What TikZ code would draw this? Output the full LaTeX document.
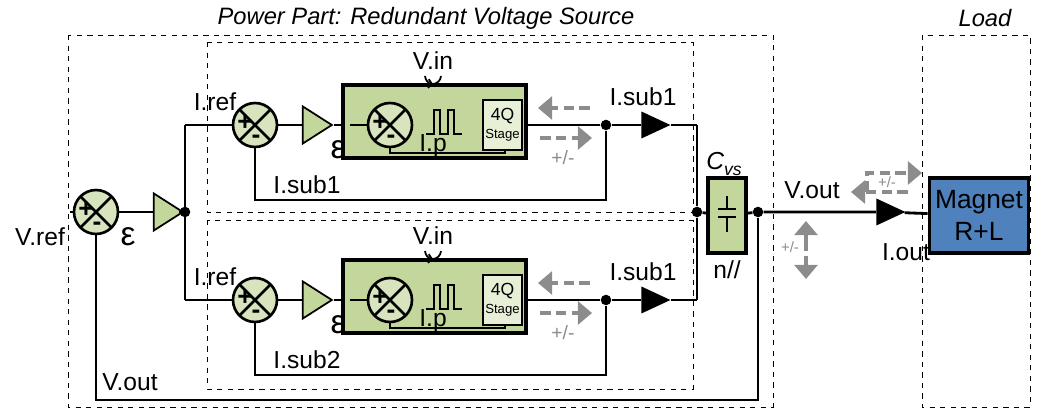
\documentclass[tikz,border=0pt]{standalone}
\usepackage{fontspec}
\setmainfont{Liberation Sans}
\usetikzlibrary{shapes.geometric,arrows.meta}
\definecolor{lgreen}{HTML}{D7E4BD}
\definecolor{mgreen}{HTML}{C3D69B}
\definecolor{magblue}{HTML}{4F81BD}
\definecolor{arrgrey}{HTML}{8C8C8C}
\tikzset{
  wire/.style={line width=1.6pt},
  frame/.style={dashed,line width=0.5pt},
  summer/.style={circle,draw,line width=1.5pt,fill=lgreen,minimum size=0.88cm,inner sep=0pt,
    path picture={\draw[line width=1.5pt] (path picture bounding box.north west) -- (path picture bounding box.south east)
      (path picture bounding box.north east) -- (path picture bounding box.south west);}},
  gain/.style={isosceles triangle,isosceles triangle stretches,draw,line width=1pt,fill=mgreen,
    minimum height=0.58cm,minimum width=0.74cm,inner sep=0pt},
  flow/.style={isosceles triangle,isosceles triangle stretches,fill=black,
    minimum height=0.58cm,minimum width=0.54cm,inner sep=0pt},
  dot/.style={circle,fill=black,inner sep=0pt,minimum size=6pt},
  sgn/.style={font=\bfseries\fontsize{15}{15}\selectfont,inner sep=0pt},
  lbl/.style={font=\fontsize{14}{14}\selectfont,inner sep=0pt},
  eps/.style={font=\fontsize{19}{19}\selectfont,inner sep=0pt},
  grey arrow/.style={dash pattern=on 6pt off 3pt,line width=1.8pt,arrgrey,-{Triangle[length=8pt,width=13pt]}},
}
\begin{document}
\begin{tikzpicture}[x=0.02cm,y=-0.02cm]
\useasboundingbox (0,0) rectangle (1046,418);

% frames
\draw[frame] (68,35) rectangle (773,407);
\draw[frame] (922,35) rectangle (1030,407);
\draw[frame] (207,42) rectangle (693,212);
\draw[frame] (207,220) rectangle (693,389);
\node[lbl,font=\itshape\fontsize{13.5}{13.5}\selectfont] (ptitle) at (426,18) {Power Part: Redundant Voltage Source};
\node[lbl,font=\itshape\fontsize{13.5}{13.5}\selectfont] (ltitle) at (985,18) {Load};

% main loop
\coordinate (vin) at (70,212);
\node[summer] (s0) at (96,212) {};
\node[sgn] at (86,210) {+};
\node[sgn] at (97,226) {-};
\node[gain] (g0) at (164,212) {};
\node[eps] (e0) at (128,237) {ε};
\node[dot] (j0) at (185,212) {};
\node[lbl] (vref) at (40,237) {V.ref};
\draw[wire] (vin) -- (s0) -- (g0) -- (j0);
\draw[wire] (185,125) -- (185,300);

% two branches
\foreach \yo/\nm/\fb in {0/a/I.sub1,175/b/I.sub2}{
  \begin{scope}[yshift=-\yo*0.02cm]
  \node[summer] (s\nm) at (255,125) {};
  \node[sgn] at (245,123) {+};
  \node[sgn] at (256,139) {-};
  \node[lbl] at (215,102) {I.ref};
  \node[gain] (g\nm) at (313,125) {};
  \node[eps] at (338,150) {ε};
  \node[draw,line width=1.8pt,fill=mgreen,minimum width=3.66cm,minimum height=1.46cm,inner sep=0pt] (box\nm) at (434.5,121.5) {};
  \node[summer] (p\nm) at (390,125) {};
  \node[sgn] at (380,123) {+};
  \node[sgn] at (391,139) {-};
  \draw[line width=0.8pt] (350,125) -- (p\nm);
  \draw[line width=0.8pt] (426,134) -- (434,134) -- (434,110) -- (440,110) -- (440,134) -- (448,134) -- (448,110) -- (454,110) -- (454,134) -- (462,134);
  \node[lbl] at (433,146) {I.p};
  \node[draw,line width=0.6pt,fill=lgreen!60!white,minimum width=0.78cm,minimum height=1cm,inner sep=0pt,align=center,
    font=\fontsize{10}{11}\selectfont] (q\nm) at (502.5,125) {4Q\\[-1pt]{\fontsize{7.5}{8}\selectfont Stage}};
  \draw[line width=1pt] (p\nm.south) -- (390,153) -- (505,153) -- (505,150);
  \node[lbl] at (433,61) {V.in};
  \draw[line width=1pt,-{Straight Barb[length=2pt,width=5pt]}] (425,76) to[bend right=40] (433,84);
  \draw[line width=1pt] (441,76) to[bend left=40] (433,84);
  \node[dot] (o\nm) at (606,125) {};
  \node[flow] (f\nm) at (650,125) {};
  \node[lbl] at (643,97) {I.sub1};
  \draw[wire] (j0 |- s\nm) -- (s\nm) -- (g\nm) -- (box\nm.west |- g\nm);
  \draw[wire] (box\nm.east |- o\nm) -- (o\nm) -- (f\nm) -- (697,125);
  \draw[wire] (s\nm.south) -- (255,200) -- (606,200) -- (o\nm);
  \node[lbl] at (307,185) {\fb};
  \draw[grey arrow] (590,108) -- (538,108);
  \draw[grey arrow] (540,138) -- (592,138);
  \node[lbl,arrgrey,font=\fontsize{11}{11}\selectfont] at (563,158) {+/-};
  \end{scope}
}

% output stage
\node[dot] (j1) at (697,212) {};
\draw[wire] (697,125) -- (j1) -- (697,300);
\node[draw,line width=1.8pt,fill=mgreen,minimum width=0.76cm,minimum height=1.5cm,inner sep=0pt] (cap) at (727,215.5) {};
\draw[line width=1.5pt] (718,209) -- (736,209) (718,217) -- (736,217) (727,196) -- (727,209) (727,217) -- (727,232);
\node[lbl,font=\itshape\fontsize{14}{14}\selectfont] at (724,164) {C\raisebox{-3pt}{\fontsize{10}{10}\selectfont vs}};
\node[lbl] at (727,270) {n//};
\node[dot] (j2) at (758,212) {};
\node[draw,line width=1.8pt,fill=magblue,minimum width=1.88cm,minimum height=1.5cm,align=center,
  font=\fontsize{15}{18}\selectfont] (mag) at (979,215.5) {Magnet\\R+L};
\node[flow] (fo) at (885,212) {};
\node[lbl] at (812,190) {V.out};
\node[lbl] at (906,252) {I.out};
\draw[wire] (j1) -- (cap) -- (j2) -- (fo) -- (mag);
\draw[wire] (j2) -- (758,400) -- (96,400) -- (s0);
\node[lbl] at (130,382) {V.out};

% grey polarity arrows
\draw[grey arrow] (806,240) -- (806,221);
\draw[grey arrow] (806,256) -- (806,279);
\draw[dash pattern=on 6pt off 3pt,line width=1.8pt,arrgrey] (806,240) -- (806,256);
\node[lbl,arrgrey,font=\fontsize{8.5}{8.5}\selectfont] at (790,247) {+/-};
\draw[grey arrow] (867,192) -- (867,173) -- (922,173);
\draw[grey arrow] (908,192) -- (851,192);
\node[lbl,arrgrey,font=\fontsize{8.5}{8.5}\selectfont] at (887,182) {+/-};
\end{tikzpicture}
\end{document}
